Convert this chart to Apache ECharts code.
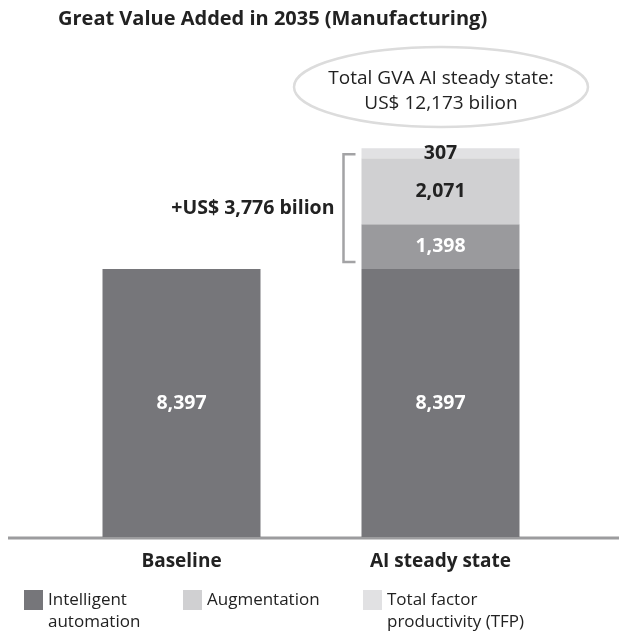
<!DOCTYPE html>
<html>
<head>
<meta charset="utf-8">
<script src="https://cdn.jsdelivr.net/npm/echarts@6/dist/echarts.min.js"></script>
<style>
  html, body { margin: 0; padding: 0; background: #fff; }
  #chart { width: 619px; height: 636px; }
</style>
</head>
<body>
<div id="chart"></div>
<script>
// Gross value added in 2035, manufacturing (US$ billion)
const categories = ['Baseline', 'AI steady state'];
const automationBase = [8397, 8397];
const automationUplift = [null, 1398];
const augmentation = [null, 2071];
const tfp = [null, 307];
const totalAI = 12173;
const upliftTotal = 3776;

const FONT = '"Open Sans", "Noto Sans", sans-serif';
const fmt = v => Number(v).toLocaleString('en-US');

const COLORS = {
  automation: '#76767a',
  uplift: '#9a9a9d',
  augmentation: '#d0d0d2',
  tfp: '#e1e1e3'
};

// A leading blank line keeps the first text line level with the swatch
const legendLabels = {
  'Intelligent automation': '\nIntelligent\nautomation',
  'Augmentation': 'Augmentation',
  'Total factor productivity (TFP)': '\nTotal factor\nproductivity (TFP)'
};

function legendAt(name, left, top) {
  return {
    data: [name],
    left: left,
    top: top,
    padding: 0,
    itemWidth: 19,
    itemHeight: 20,
    itemGap: 0,
    icon: 'rect',
    selectedMode: false,
    formatter: n => legendLabels[n],
    textStyle: {
      fontFamily: FONT,
      fontSize: 17,
      color: '#222',
      lineHeight: 22
    }
  };
}

function barLabel(color) {
  return {
    show: true,
    position: 'inside',
    fontFamily: FONT,
    fontSize: 19.5,
    fontWeight: 'bold',
    color: color,
    formatter: p => fmt(p.value)
  };
}

const chart = echarts.init(document.getElementById('chart'));

chart.setOption({
  animation: false,
  title: {
    text: 'Great Value Added in 2035 (Manufacturing)',
    left: 58,
    top: 9,
    padding: 0,
    textStyle: { fontFamily: FONT, fontSize: 20, fontWeight: 'bold', color: '#222' }
  },
  legend: [
    legendAt('Intelligent automation', 24, 567),
    legendAt('Augmentation', 183, 589),
    legendAt('Total factor productivity (TFP)', 363, 567)
  ],
  grid: { left: 52, right: 49, top: 90, bottom: 99, containLabel: false },
  xAxis: {
    type: 'category',
    data: categories,
    axisLine: { show: false },
    axisTick: { show: false },
    axisLabel: {
      margin: 15,
      fontFamily: FONT,
      fontSize: 19,
      fontWeight: 'bold',
      color: '#222'
    }
  },
  yAxis: {
    type: 'value',
    min: 0,
    max: 14000,
    show: false,
    splitLine: { show: false }
  },
  series: [
    {
      name: 'Intelligent automation',
      type: 'bar',
      stack: 'gva',
      barWidth: 158,
      data: automationBase,
      itemStyle: { color: COLORS.automation },
      label: barLabel('#fff')
    },
    {
      name: 'Intelligent automation uplift',
      type: 'bar',
      stack: 'gva',
      data: automationUplift,
      itemStyle: { color: COLORS.uplift },
      label: barLabel('#fff')
    },
    {
      name: 'Augmentation',
      type: 'bar',
      stack: 'gva',
      data: augmentation,
      itemStyle: { color: COLORS.augmentation },
      label: barLabel('#222')
    },
    {
      name: 'Total factor productivity (TFP)',
      type: 'bar',
      stack: 'gva',
      data: tfp,
      itemStyle: { color: COLORS.tfp },
      label: barLabel('#222')
    }
  ]
});

// Annotations: baseline rule, total callout and uplift bracket
function drawAnnotations() {
  const base = chart.convertToPixel({ gridIndex: 0 }, [1, 0]);
  const top = chart.convertToPixel({ gridIndex: 0 }, [1, totalAI]);
  const low = chart.convertToPixel({ gridIndex: 0 }, [1, automationBase[1]]);
  const barLeft = base[0] - 158 / 2;
  const bx = barLeft - 18;
  const tickEnd = barLeft - 6;
  const y1 = top[1] + 6;
  const y2 = low[1] - 7;
  const bracketColor = '#a3a3a5';

  chart.setOption({
    graphic: [
      {
        type: 'line',
        shape: { x1: 8, y1: base[1] + 1, x2: 619, y2: base[1] + 1 },
        style: { stroke: '#9c9c9e', lineWidth: 3 },
        silent: true
      },
      {
        type: 'ellipse',
        shape: { cx: 441, cy: 87, rx: 147, ry: 40 },
        style: { fill: '#fff', stroke: '#dcdcdc', lineWidth: 2.5 },
        silent: true
      },
      {
        type: 'text',
        x: 441,
        y: 91,
        style: {
          text: 'Total GVA AI steady state:\nUS$ ' + fmt(totalAI) + ' bilion',
          fontFamily: FONT,
          fontSize: 19,
          lineHeight: 25,
          fill: '#222',
          align: 'center',
          verticalAlign: 'middle'
        },
        silent: true
      },
      {
        type: 'polyline',
        shape: { points: [[tickEnd, y1], [bx, y1], [bx, y2], [tickEnd, y2]] },
        style: { stroke: bracketColor, lineWidth: 2.5, fill: null },
        silent: true
      },
      {
        type: 'text',
        x: bx - 9,
        y: (y1 + y2) / 2,
        style: {
          text: '+US$ ' + fmt(upliftTotal) + ' bilion',
          fontFamily: FONT,
          fontSize: 19.5,
          fontWeight: 'bold',
          fill: '#222',
          align: 'right',
          verticalAlign: 'middle'
        },
        silent: true
      }
    ]
  });
}
drawAnnotations();
</script>
</body>
</html>
